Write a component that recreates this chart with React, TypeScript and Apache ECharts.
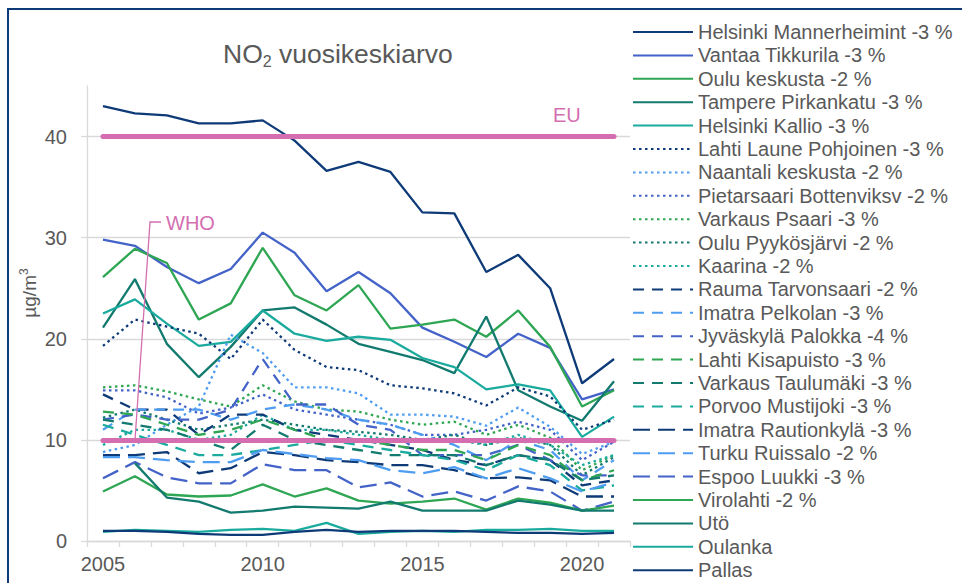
import React, { useEffect, useRef } from "react";
import * as echarts from "echarts";

const YEARS = ["2005","2006","2007","2008","2009","2010","2011","2012","2013","2014","2015","2016","2017","2018","2019","2020","2021"];

const EU_LIMIT = 40;
const WHO_LIMIT = 10;

const NAMES = [
  "Helsinki Mannerheimint -3 %",
  "Vantaa Tikkurila -3 %",
  "Oulu keskusta -2 %",
  "Tampere Pirkankatu -3 %",
  "Helsinki Kallio -3 %",
  "Lahti Laune Pohjoinen -3 %",
  "Naantali keskusta -2 %",
  "Pietarsaari Bottenviksv -2 %",
  "Varkaus Psaari -3 %",
  "Oulu Pyykösjärvi -2 %",
  "Kaarina -2 %",
  "Rauma Tarvonsaari -2 %",
  "Imatra Pelkolan -3 %",
  "Jyväskylä Palokka -4 %",
  "Lahti Kisapuisto -3 %",
  "Varkaus Taulumäki -3 %",
  "Porvoo Mustijoki -3 %",
  "Imatra Rautionkylä -3 %",
  "Turku Ruissalo -2 %",
  "Espoo Luukki -3 %",
  "Virolahti -2 %",
  "Utö",
  "Oulanka",
  "Pallas",
];

const helsinkiMannerheimint = [43.0, 42.3, 42.1, 41.3, 41.3, 41.6, 39.6, 36.6, 37.5, 36.5, 32.5, 32.4, 26.6, 28.3, 25.0, 15.6, 18.0];
const vantaaTikkurila = [29.8, 29.2, 27.1, 25.5, 26.9, 30.5, 28.5, 24.7, 26.6, 24.5, 21.1, 19.7, 18.2, 20.5, 19.1, 14.0, 15.0];
const ouluKeskusta = [26.1, 28.9, 27.5, 21.9, 23.5, 29.0, 24.3, 22.8, 25.3, 21.0, 21.4, 21.9, 20.2, 22.8, 19.2, 13.3, 14.9];
const tamperePirkankatu = [21.1, 25.9, 19.5, 16.2, 19.2, 22.8, 23.1, 21.4, 19.5, 18.7, 17.9, 16.6, 22.2, 14.9, 13.3, 11.9, 15.8];
const helsinkiKallio = [22.5, 23.9, 21.5, 19.3, 19.7, 22.8, 20.5, 19.8, 20.2, 19.9, 18.1, 17.2, 15.0, 15.5, 14.9, 10.3, 12.3];
const lahtiLaune = [19.3, 21.9, 21.2, 20.5, 18.0, 21.9, 18.9, 17.2, 16.9, 15.4, 15.1, 14.6, 13.4, 15.2, 14.3, 11.0, 12.0];
const naantali = [8.8, 9.5, 11.5, 13.3, 20.4, 18.6, 15.2, 15.2, 14.6, 12.5, 12.5, 12.3, 11.4, 13.2, 11.3, 8.6, 9.8];
const pietarsaari = [14.9, 14.9, 14.2, 12.6, 13.2, 14.5, 13.0, 12.5, 12.0, 11.5, 10.5, 10.5, 11.0, 11.8, 11.0, 8.0, 9.8];
const varkausPsaari = [15.2, 15.4, 14.8, 14.0, 13.3, 15.4, 13.8, 13.0, 12.8, 12.0, 11.5, 11.8, 10.5, 11.5, 10.2, 7.0, 8.5];
const ouluPyykosjarvi = [12.2, 13.0, 12.0, 11.0, 11.5, 12.0, 11.5, 11.0, 10.8, 10.5, 10.0, 10.5, 9.5, 10.2, 9.5, 6.5, 8.3];
const kaarina = [9.5, 11.0, 11.0, 10.0, 10.5, 12.5, 11.0, 11.0, 10.5, 10.0, 10.0, 10.0, 9.5, 10.5, 9.5, 7.5, 8.5];
const raumaTarvonsaari = [14.5, 13.0, 13.0, 10.5, 12.5, 12.5, 11.0, 10.5, 10.0, 9.5, 9.0, 8.0, 7.5, 8.5, 8.0, 5.5, 6.0];
const imatraPelkolan = [11.0, 13.0, 13.0, 13.0, 12.0, 13.0, 13.5, 13.0, 12.0, 11.5, 10.5, 9.5, 8.0, 10.0, 9.0, 6.0, 8.0];
const jyvaskylaPalokka = [12.0, 12.5, 12.0, 12.0, 13.0, 18.0, 13.5, 13.5, 11.5, 11.0, 8.5, 8.5, 8.5, 9.5, 8.0, 6.5, 6.5];
const lahtiKisapuisto = [12.8, 12.5, 11.5, 10.5, 11.0, 12.0, 11.0, 10.0, 10.0, 9.5, 9.0, 9.0, 8.0, 9.5, 8.5, 6.0, 7.0];
const varkausTaulumaki = [12.0, 11.5, 11.0, 10.0, 9.0, 11.5, 10.0, 9.5, 9.0, 8.5, 8.5, 8.5, 7.5, 8.5, 8.0, 6.0, 6.5];
const porvooMustijoki = [11.5, 10.5, 9.5, 8.5, 8.5, 9.0, 9.5, 10.0, 9.5, 9.0, 8.5, 8.0, 7.0, 8.5, 7.5, 5.0, 5.5];
const imatraRautionkyla = [8.5, 8.5, 8.8, 6.7, 7.2, 8.8, 8.5, 8.0, 7.8, 7.5, 7.5, 7.0, 6.2, 6.3, 6.0, 4.4, 4.4];
const turkuRuissalo = [8.3, 8.3, 8.0, 7.8, 7.8, 9.0, 8.6, 8.2, 8.0, 7.0, 6.7, 7.3, 6.2, 7.2, 6.2, 4.9, 5.8];
const espooLuukki = [6.2, 7.8, 6.3, 5.7, 5.7, 7.6, 7.0, 7.0, 5.3, 5.8, 4.4, 4.9, 4.0, 5.4, 4.9, 3.0, 3.9];
const virolahti = [4.9, 6.4, 4.6, 4.4, 4.5, 5.6, 4.4, 5.2, 4.0, 3.7, 3.9, 4.2, 3.1, 4.2, 3.8, 3.0, 3.5];
const uto = [null, 7.7, 4.3, 3.9, 2.8, 3.0, 3.4, 3.3, 3.2, 3.9, 3.0, 3.0, 3.0, 4.0, 3.6, 3.0, 3.0];
const oulanka = [0.9, 1.1, 1.0, 0.9, 1.1, 1.2, 1.0, 1.8, 0.7, 0.9, 1.0, 0.9, 1.1, 1.1, 1.2, 1.0, 1.0];
const pallas = [1.0, 1.0, 0.9, 0.7, 0.6, 0.6, 0.9, 1.1, 0.9, 1.0, 1.0, 1.0, 0.9, 0.8, 0.8, 0.7, 0.8];

const VALUES = [
  helsinkiMannerheimint, vantaaTikkurila, ouluKeskusta, tamperePirkankatu, helsinkiKallio,
  lahtiLaune, naantali, pietarsaari, varkausPsaari, ouluPyykosjarvi, kaarina,
  raumaTarvonsaari, imatraPelkolan, jyvaskylaPalokka, lahtiKisapuisto, varkausTaulumaki, porvooMustijoki,
  imatraRautionkyla, turkuRuissalo, espooLuukki,
  virolahti, uto, oulanka, pallas,
];

const NAVY = "#0e3b78";
const BLUE = "#4463c8";
const GREEN = "#2ea653";
const DTEAL = "#127a6e";
const TEAL = "#1aab9e";
const LBLUE = "#4f9df0";
const PINK = "#d46eb0";
const GRAY = "#595959";

const COLORS = [
  NAVY, BLUE, GREEN, DTEAL, TEAL,
  NAVY, LBLUE, BLUE, GREEN, DTEAL, TEAL,
  NAVY, LBLUE, BLUE, GREEN, DTEAL, TEAL,
  NAVY, LBLUE, BLUE,
  GREEN, DTEAL, TEAL, NAVY,
];

const DOTTED = [2.5, 3.5];
const DASHED = [11, 8];
const LONGDASH = [17, 8];
const STYLES: any[] = [
  "solid", "solid", "solid", "solid", "solid",
  DOTTED, DOTTED, DOTTED, DOTTED, DOTTED, DOTTED,
  DASHED, DASHED, DASHED, DASHED, DASHED, DASHED,
  LONGDASH, LONGDASH, LONGDASH,
  "solid", "solid", "solid", "solid",
];

const FONT = "'Liberation Sans', Arial, sans-serif";

export default function App() {
  const ref = useRef<HTMLDivElement>(null);
  useEffect(() => {
    document.body.style.margin = "0";
    const chart = echarts.init(ref.current!, undefined, { renderer: "svg" });
    const series: any[] = NAMES.map((name, i) => ({
      name,
      type: "line",
      data: VALUES[i],
      symbol: "none",
      connectNulls: false,
      lineStyle: { color: COLORS[i], width: 2.3, type: STYLES[i] },
      itemStyle: { color: COLORS[i] },
    }));
    series.push({
      name: "limits",
      type: "line",
      data: [],
      z: 5,
      silent: true,
      markLine: {
        silent: true,
        symbol: "none",
        label: { show: false },
        lineStyle: { color: PINK, width: 5, type: "solid", cap: "round" },
        data: [
          [{ coord: [YEARS[0], EU_LIMIT] }, { coord: [YEARS[YEARS.length - 1], EU_LIMIT] }],
          [{ coord: [YEARS[0], WHO_LIMIT] }, { coord: [YEARS[YEARS.length - 1], WHO_LIMIT] }],
        ],
      },
    });
    chart.setOption({
      animation: false,
      textStyle: { fontFamily: FONT },
      title: {
        text: "{a|NO}{b|2}{a| vuosikeskiarvo}",
        left: 218,
        top: 34,
        textStyle: {
          fontWeight: "normal",
          rich: {
            a: { fontSize: 26.5, color: GRAY, fontFamily: FONT, fontWeight: "normal", lineHeight: 30, verticalAlign: "middle" },
            b: { fontSize: 16, color: GRAY, fontFamily: FONT, fontWeight: "normal", lineHeight: 15, verticalAlign: "bottom" },
          },
        },
      },
      legend: {
        data: NAMES,
        orient: "vertical",
        left: 632,
        top: 22,
        padding: 0,
        itemWidth: 60,
        itemHeight: 20,
        itemGap: 3.4,
        itemStyle: { opacity: 0 },
        textStyle: { fontSize: 20, color: GRAY, lineHeight: 20, fontFamily: FONT },
      },
      grid: { left: 87, top: 86, width: 543, height: 455, containLabel: false },
      xAxis: {
        type: "category",
        data: YEARS,
        boundaryGap: true,
        axisLine: { lineStyle: { color: "#d9d9d9", width: 1.3 } },
        axisTick: { show: true, interval: 0, length: 6, lineStyle: { color: "#d9d9d9", width: 1.3 } },
        axisLabel: { interval: 4, fontSize: 20, color: GRAY, margin: 13, fontFamily: FONT },
      },
      yAxis: {
        type: "value",
        min: 0,
        max: 45,
        interval: 10,
        axisLine: { show: true, lineStyle: { color: "#d9d9d9", width: 1.3 } },
        axisTick: { show: true, length: 6, lineStyle: { color: "#d9d9d9", width: 1.3 } },
        axisLabel: { fontSize: 20, color: GRAY, margin: 20, showMaxLabel: false, fontFamily: FONT },
        splitLine: { show: true, showMaxLine: false, lineStyle: { color: "#d9d9d9", width: 1.3 } },
      },
      graphic: [
        {
          type: "rect",
          shape: { x: 8, y: 9, width: 1200, height: 1200 },
          style: { fill: "none", stroke: NAVY, lineWidth: 2 },
          silent: true,
        },
        {
          type: "polyline",
          shape: { points: [[135, 440], [150, 222], [161, 222]] },
          style: { fill: "none", stroke: PINK, lineWidth: 1.3 },
          silent: true,
          z: 10,
        },
        {
          type: "text",
          x: 166,
          y: 223,
          style: { text: "WHO", fill: PINK, fontSize: 20, fontFamily: FONT, verticalAlign: "middle" },
          z: 10,
        },
        {
          type: "text",
          x: 553,
          y: 115,
          style: { text: "EU", fill: PINK, fontSize: 20, fontFamily: FONT, verticalAlign: "middle" },
          z: 10,
        },
        {
          type: "text",
          x: 29,
          y: 293,
          rotation: Math.PI / 2,
          style: {
            text: "{a|µg/m}{b|3}",
            align: "center",
            verticalAlign: "middle",
            rich: {
              a: { fontSize: 19, fill: GRAY, fontFamily: FONT, lineHeight: 22, verticalAlign: "middle" },
              b: { fontSize: 12, fill: GRAY, fontFamily: FONT, lineHeight: 12, verticalAlign: "top" },
            },
          },
        },
      ],
      series,
    });
    return () => chart.dispose();
  }, []);
  return <div ref={ref} style={{ width: 962, height: 583 }} />;
}
